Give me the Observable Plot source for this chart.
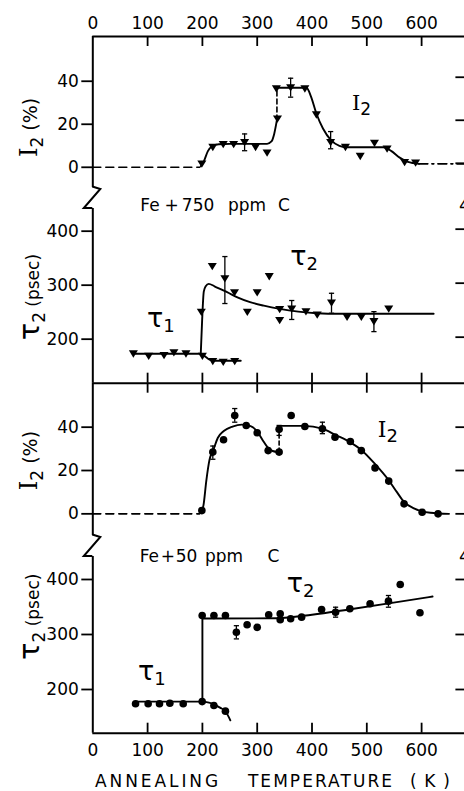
<!DOCTYPE html>
<html><head><meta charset="utf-8">
<script src="https://cdn.jsdelivr.net/npm/d3@7"></script>
<script src="https://cdn.jsdelivr.net/npm/@observablehq/plot@0.6"></script>
<style>
html,body{margin:0;padding:0;background:#fff;overflow:hidden;}
#fig{position:relative;width:464px;height:791px;overflow:hidden;background:#fff;}
#fig svg{position:absolute;left:0;}
</style></head><body><div id="fig"></div>
<script>
// ---------- tick labels ----------
const xTicks = [0, 100, 200, 300, 400, 500, 600];
const xInner = [100, 200, 300, 400, 500, 600];
const iTicks = [0, 20, 40];
const tauTicks = [200, 300, 400];

// ---------- Panel 1: Fe + 750 ppm C, I2 (%) ----------
const p1Temp = [199, 219, 238, 257, 277, 297, 318, 337, 335, 361, 387, 408, 434, 461, 488, 514, 537, 569, 589];
const p1I2   = [1.6, 9.3, 10.6, 10.6, 11.6, 9.3, 6.7, 22.5, 36.5, 37, 36.5, 24.4, 11.6, 9.3, 5.1, 11.2, 8.5, 2.3, 2.0];
const p1ErrTemp = [277, 361, 434];
const p1ErrLo = [7.7, 32.6, 8.6];
const p1ErrHi = [15.5, 41.4, 16.6];
const p1FitBase = [[0, 0], [195, 0]];
const p1FitStep = [[197, 0.5], [203, 3], [210, 7.5], [218, 9.8], [230, 10.7], [250, 10.9], [318, 10.9], [326, 12], [331, 15.5], [336, 22]];
const p1FitJump = [[336, 22], [336, 37]];
const p1FitPeak = [[337, 37], [390, 37], [398, 33], [408, 25], [420, 18], [435, 12.5], [450, 10], [465, 9.3], [530, 9.3], [545, 7.5], [560, 4.5], [575, 2.5], [595, 1.6]];
const p1FitTail = [[595, 1.6], [680, 1.6]];

// ---------- Panel 2: Fe + 750 ppm C, tau (psec) ----------
const p2Tau1Temp = [74, 102, 130, 148, 170, 200, 219, 238, 259];
const p2Tau1 = [173, 168.5, 170, 175, 173, 168.5, 158.7, 157.4, 158.7];
const p2Tau2Temp = [198, 218, 241, 258.6, 282, 300, 322, 341, 341, 363, 389, 409.5, 435.6, 464, 490, 513, 540];
const p2Tau2 = [250, 334.6, 312, 286, 250, 286, 316, 255, 234.6, 256, 251, 245, 267, 240.7, 240.7, 232.7, 256];
const p2ErrTemp = [241, 363, 435.6, 513];
const p2ErrLo = [266, 236.5, 248, 214];
const p2ErrHi = [353, 271.6, 285, 251];
const p2FitTau1 = [[74, 173], [197, 173], [205, 168], [213, 162], [222, 160], [270, 160]];
const p2FitTau2 = [[197, 173], [199.5, 235], [202.5, 288], [206, 298], [211.5, 302.5], [222, 298], [245, 287], [265, 277], [287, 268.5], [312, 262], [341, 256], [375, 251], [409, 248], [450, 247], [622, 247]];

// ---------- Panel 3: Fe + 50 ppm C, I2 (%) ----------
const p3Temp = [199, 219, 238.6, 259, 280, 300, 320, 340, 340, 362, 387, 419, 442, 470, 490, 515, 540, 568, 601, 630];
const p3I2   = [1.5, 28.5, 34.2, 45.4, 40.8, 37.4, 29.2, 28.5, 39, 45.4, 40.3, 39.3, 35.4, 33.4, 29.2, 21.2, 15.1, 4.6, 0.7, 0];
const p3ErrTemp = [219, 259, 340, 419];
const p3ErrLo = [25.2, 42.3, 36.2, 37];
const p3ErrHi = [31.3, 48.6, 40.8, 42.3];
const p3FitBase = [[0, 0], [195, 0]];
const p3FitRise = [[197, 0.5], [202, 4], [207, 15], [213, 25], [220, 29.5], [228, 35], [239, 38.2], [255, 40.3], [272, 41.2], [288, 40.5], [300, 38], [310, 34], [318, 31], [328, 29], [339, 28.5]];
const p3FitJump = [[340, 28.5], [340, 40.6]];
const p3FitFall = [[341, 40.6], [385, 40.6], [419, 39.3], [442, 36.5], [470, 33], [490, 29.5], [515, 23], [540, 15.5], [555, 10], [568, 5.5], [586, 2.5], [616, 0.5], [650, 0]];

// ---------- Panel 4: Fe + 50 ppm C, tau (psec) ----------
const p4Tau1Temp = [78, 101, 121.7, 140.6, 165, 199.6, 221, 242];
const p4Tau1 = [174, 174, 174, 175, 174, 178, 171, 160.6];
const p4Tau2Temp = [199.6, 221, 242, 262, 281.6, 300, 321, 342, 342, 361, 381, 417.5, 443, 469, 506, 539.5, 561, 597];
const p4Tau2 = [334.5, 334.5, 334.5, 304, 317.6, 313, 335.8, 337.6, 327, 328.5, 331.5, 345.5, 340.5, 346.7, 355.8, 360.6, 391, 339.5];
const p4ErrTemp = [262, 443, 539.5];
const p4ErrLo = [292, 331.5, 349.6];
const p4ErrHi = [316, 349.6, 370.9];
const p4FitTau1 = [[78, 178], [200, 178], [212, 176], [222, 172.7], [232, 167], [242, 160.5], [251, 144]];
const p4FitJump = [[200, 178], [200, 329]];
const p4FitTau2 = [[200.5, 329], [215, 329], [336, 329.5], [400, 336], [470, 346], [540, 356.5], [620, 369]];

// ---------- drawing helpers ----------
const SANS = "'DejaVu Sans', Roboto, sans-serif";
const SERIF = "'DejaVu Serif', serif";
const GREEK = "'DejaVu Sans', sans-serif";
const W = 470, XL = 92.3, XR = 464.4;
const xDomain = [0, 679];
const AW = XR - XL;
const LW = 1.9;   // curve width
const AXW = 2;    // axis width

const triDown = {draw(ctx, size) { const r = Math.sqrt(size / Math.PI);
  ctx.moveTo(-1.05 * r, -0.8 * r); ctx.lineTo(1.05 * r, -0.8 * r); ctx.lineTo(0, 0.9 * r); ctx.closePath(); }};
const capSym = {draw(ctx, size) { const r = Math.sqrt(size / Math.PI); ctx.moveTo(-r, 0); ctx.lineTo(r, 0); }};

const fit = (pts, opts = {}) => Plot.line(pts, {x: d => d[0], y: d => d[1], stroke: "black", strokeWidth: LW, curve: "monotone-x", ...opts});
const errBars = (T, lo, hi) => {
  const d = T.map((t, i) => ({t, lo: lo[i], hi: hi[i]}));
  return [
    Plot.ruleX(d, {x: "t", y1: "lo", y2: "hi", strokeWidth: 1.3}),
    Plot.dot(d, {x: "t", y: "lo", symbol: capSym, r: 2.6, stroke: "black", strokeWidth: 1.3}),
    Plot.dot(d, {x: "t", y: "hi", symbol: capSym, r: 2.6, stroke: "black", strokeWidth: 1.3})
  ];
};
const tri = (T, V) => Plot.dot(T, {x: T, y: V, symbol: triDown, r: 4.3, fill: "black"});
const circ = (T, V) => Plot.dot(T, {x: T, y: V, r: 3.8, fill: "black"});

function textMark(items) {
  return (index, scales, values, dims) => {
    const g = d3.create("svg:g").attr("fill", "black");
    for (const it of items) {
      const px = it.x != null ? scales.x(it.x) : dims.marginLeft + it.dx;
      const py = it.y != null ? scales.y(it.y) : it.py(dims);
      const t = g.append("text").attr("text-anchor", it.anchor || "start")
        .attr("transform", `translate(${px},${py})` + (it.rotate ? ` rotate(${it.rotate})` : ""));
      if (it.to != null) t.attr("textLength", scales.x(it.to) - scales.x(it.x)).attr("lengthAdjust", "spacing");
      for (const [s, fam, size, dy = 0] of it.parts) {
        t.append("tspan").attr("font-family", fam).attr("font-size", size).attr("dy", dy).text(s);
      }
    }
    return g.node();
  };
}
const breakMark = (index, scales, values, dims) => {
  const x0 = scales.x(0), t = dims.marginTop;
  return d3.create("svg:path")
    .attr("d", `M${x0},${t - 21.5}L${x0 + 8},${t - 19}L${x0 - 8.5},${t}L${x0},${t}`)
    .attr("fill", "none").attr("stroke", "black").attr("stroke-width", AXW).node();
};
// words of the alloy captions, centred at these temperatures
const cap750Words = ["Fe", "+", "750", "ppm", "C"];
const cap750At = [105.3, 144.5, 193, 282.3, 349.8];
const cap50Words = ["Fe", "+", "50", "ppm", "C"];
const cap50At = [104, 138, 172, 240.3, 330.7];
const words = (ws, at, y) => ws.map((w, i) => ({x: at[i], y, anchor: "middle", parts: [[w, SANS, 17]]}));

const I2label = [["I", SERIF, 24], ["2", SANS, 17, 6], [" (%)", SANS, 19, -6]];
const TAUlabel = [["τ", GREEK, 29], ["2", SANS, 17, 6], [" (psec)", SANS, 17, -6]];

function panel(cfg) {
  const areaH = cfg.height - cfg.marginTop - cfg.marginBottom;
  const svg = Plot.plot({
    width: W, height: cfg.height,
    marginLeft: XL, marginRight: W - XR, marginTop: cfg.marginTop, marginBottom: cfg.marginBottom,
    x: {domain: xDomain, axis: null},
    y: {domain: cfg.yDomain, axis: null},
    style: {background: "transparent", overflow: "visible", maxWidth: "none", fontFamily: SANS, fontSize: "17px", color: "black"},
    marks: cfg.marks(areaH)
  });
  svg.style.position = "absolute";
  svg.style.top = cfg.top + "px";
  svg.style.left = "0px";
  document.getElementById("fig").appendChild(svg);
}

// ---------- Panel A ----------
const yA = [-9.4, 60.8];
panel({top: 0, height: 193, marginTop: 36, marginBottom: 6, yDomain: yA, marks: (h) => [
  Plot.ruleX([0], {strokeWidth: AXW}),
  Plot.ruleY([yA[1]], {strokeWidth: AXW}),
  Plot.tickX(xInner, {x: d => d, insetBottom: h - 10, strokeWidth: 1.8}),
  Plot.tickY(iTicks, {y: d => d, insetLeft: AW - 9, dy: -4, strokeWidth: 1.8}),
  Plot.axisX(xTicks, {anchor: "top", tickSize: 0, tickPadding: 8, label: null}),
  Plot.axisY(iTicks, {anchor: "left", tickSize: 11, tickPadding: 3, strokeWidth: 1.8, label: null}),
  fit(p1FitBase, {strokeDasharray: "8,5", curve: "linear", strokeWidth: 1.6}),
  fit(p1FitStep),
  fit(p1FitJump, {strokeDasharray: "5,3", curve: "linear", strokeWidth: 1.6}),
  fit(p1FitPeak),
  fit(p1FitTail, {strokeDasharray: "9,4,2,4", curve: "linear", strokeWidth: 1.6}),
  ...errBars(p1ErrTemp, p1ErrLo, p1ErrHi),
  tri(p1Temp, p1I2),
  textMark([
    {x: 474, y: 26.4, parts: [["I", SERIF, 21], ["2", SANS, 17, 5]]},
    {dx: -55, y: 4.5, rotate: -90, parts: I2label}
  ])
]});

// ---------- Panel B ----------
const yB = [118.5, 442];
panel({top: 183, height: 203.7, marginTop: 25, marginBottom: 4, yDomain: yB, marks: (h) => [
  breakMark,
  Plot.ruleX([0], {strokeWidth: AXW}),
  Plot.ruleY([yB[0]], {strokeWidth: AXW}),
  Plot.tickX(xInner, {x: d => d, insetTop: h - 10, strokeWidth: 1.8}),
  Plot.tickY(tauTicks, {y: d => d, insetLeft: AW - 9, dy: -2, strokeWidth: 1.8}),
  Plot.axisY(tauTicks, {anchor: "left", tickSize: 11, tickPadding: 3, strokeWidth: 1.8, label: null}),
  fit(p2FitTau1),
  fit(p2FitTau2),
  ...errBars(p2ErrTemp, p2ErrLo, p2ErrHi),
  tri(p2Tau1Temp, p2Tau1),
  tri(p2Tau2Temp, p2Tau2),
  textMark([
    ...words(cap750Words, cap750At, 436),
    {x: 361, y: 336.5, parts: [["τ", GREEK, 27], ["2", SANS, 18, 5]]},
    {x: 100, y: 221.7, parts: [["τ", GREEK, 27], ["1", SANS, 18, 5]]},
    {x: 669, y: 436, parts: [["4", SANS, 18]]},
    {dx: -53, y: 197, rotate: -90, parts: TAUlabel}
  ])
]});

// ---------- Panel C ----------
const yC = [-10, 60.3];
panel({top: 372, height: 167, marginTop: 10.7, marginBottom: 4, yDomain: yC, marks: (h) => [
  Plot.ruleX([0], {strokeWidth: AXW}),
  Plot.tickX(xInner, {x: d => d, insetBottom: h - 10, strokeWidth: 1.8}),
  Plot.tickY(iTicks, {y: d => d, insetLeft: AW - 9, strokeWidth: 1.8}),
  Plot.axisY(iTicks, {anchor: "left", tickSize: 11, tickPadding: 3, strokeWidth: 1.8, label: null}),
  fit(p3FitBase, {strokeDasharray: "8,5", curve: "linear", strokeWidth: 1.6}),
  fit(p3FitRise),
  fit(p3FitJump, {strokeDasharray: "4,3", curve: "linear", strokeWidth: 1.6}),
  fit(p3FitFall),
  ...errBars(p3ErrTemp, p3ErrLo, p3ErrHi),
  circ(p3Temp, p3I2),
  textMark([
    {x: 521, y: 35.2, parts: [["I", SERIF, 22], ["2", SANS, 18, 5]]},
    {dx: -55, y: 10.7, rotate: -90, parts: I2label}
  ])
]});

// ---------- Panel D ----------
const yD = [120.55, 441.8];
panel({top: 531, height: 260, marginTop: 25, marginBottom: 58.3, yDomain: yD, marks: (h) => [
  breakMark,
  Plot.ruleX([0], {strokeWidth: AXW}),
  Plot.ruleY([yD[0]], {strokeWidth: AXW}),
  Plot.tickX(xInner, {x: d => d, insetTop: h - 10, strokeWidth: 1.8}),
  Plot.tickY(tauTicks, {y: d => d, insetLeft: AW - 9, strokeWidth: 1.8}),
  Plot.axisY(tauTicks, {anchor: "left", tickSize: 11, tickPadding: 3, strokeWidth: 1.8, label: null}),
  Plot.axisX(xTicks, {anchor: "bottom", tickSize: 0, tickPadding: 11, label: null}),
  fit(p4FitTau1),
  fit(p4FitJump, {curve: "linear"}),
  fit(p4FitTau2),
  ...errBars(p4ErrTemp, p4ErrLo, p4ErrHi),
  circ(p4Tau1Temp, p4Tau1),
  circ(p4Tau2Temp, p4Tau2),
  textMark([
    ...words(cap50Words, cap50At, 431),
    {x: 355, y: 376, parts: [["τ", GREEK, 27], ["2", SANS, 18, 5]]},
    {x: 83.4, y: 216.4, parts: [["τ", GREEK, 27], ["1", SANS, 18, 5]]},
    {x: 669, y: 431, parts: [["4", SANS, 18]]},
    {dx: -53, y: 252.7, rotate: -90, parts: TAUlabel},
    {x: 4.9, to: 229.7, py: d => d.height - 4, parts: [["ANNEALING", SANS, 17]]},
    {x: 284, to: 546.9, py: d => d.height - 4, parts: [["TEMPERATURE", SANS, 17]]},
    {x: 579.6, to: 652.5, py: d => d.height - 4, parts: [["(K)", SANS, 17]]}
  ])
]});
</script></body></html>
